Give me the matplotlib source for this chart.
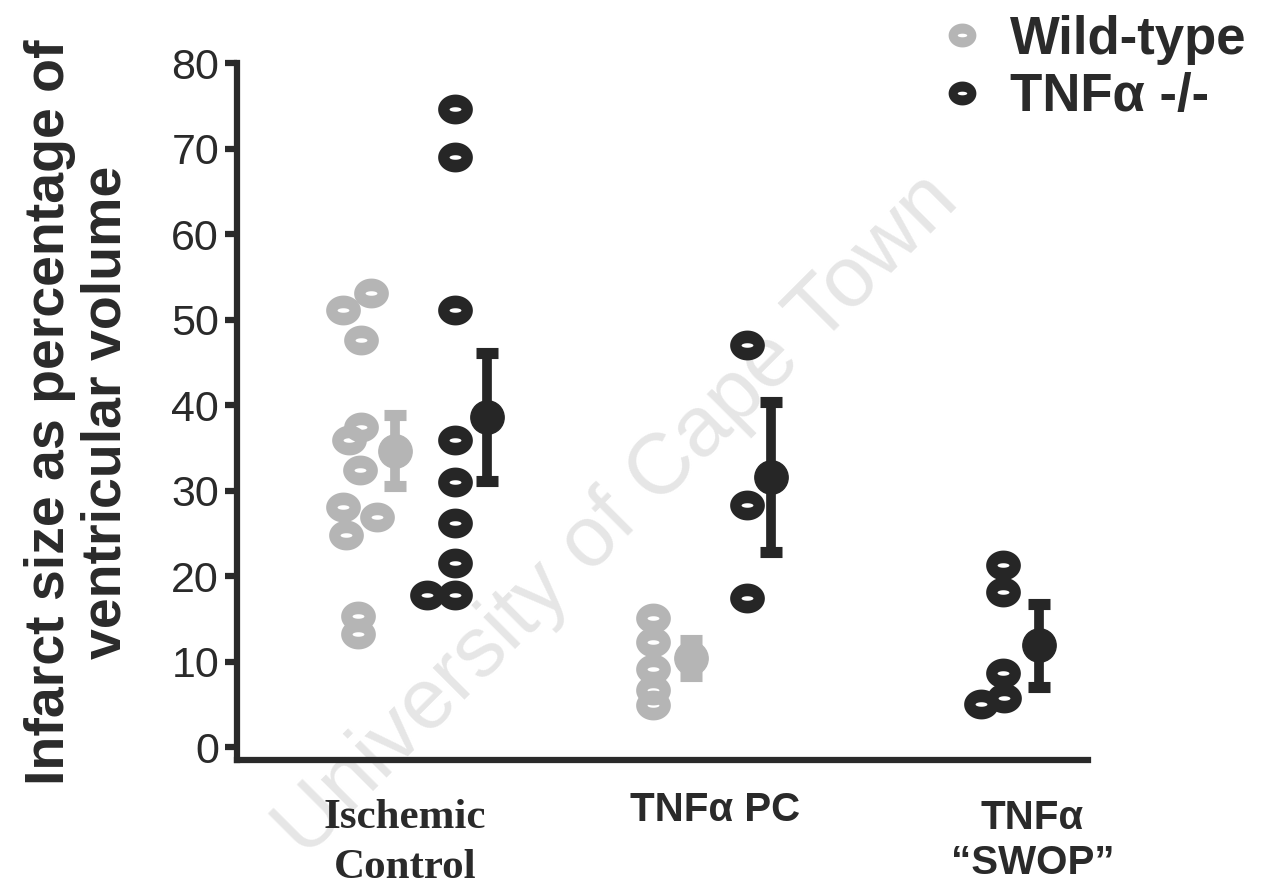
import numpy as np
import matplotlib
matplotlib.use("Agg")
import matplotlib.pyplot as plt
from matplotlib.path import Path
from matplotlib.lines import Line2D

# groups on the x axis
groups = ["Ischemic\nControl", "TNF\u03b1 PC", "TNF\u03b1\n\u201cSWOP\u201d"]

# wild-type individual values (% of ventricular volume) and their jitter
wt_group = [0, 0, 0, 0, 0, 0, 0, 0, 0, 0, 0, 1, 1, 1, 1, 1]
wt_values = [51.1, 53.1, 47.6, 37.4, 35.9, 32.4, 28.1, 26.9, 24.8, 15.4, 13.3,
             15.1, 12.3, 9.2, 6.7, 4.9]
wt_jitter = [-0.20, -0.11, -0.14, -0.14, -0.18, -0.145, -0.20, -0.09, -0.19, -0.15, -0.15,
             -0.20, -0.20, -0.20, -0.20, -0.20]

# TNFa -/- individual values
ko_group = [0, 0, 0, 0, 0, 0, 0, 0, 0, 1, 1, 1, 2, 2, 2, 2, 2]
ko_values = [74.7, 69.0, 51.1, 35.9, 31.0, 26.2, 21.6, 17.8, 17.8,
             47.0, 28.3, 17.5,
             21.3, 18.1, 8.7, 5.1, 5.8]
ko_jitter = [0.16, 0.16, 0.16, 0.16, 0.16, 0.16, 0.16, 0.16, 0.07,
             0.10, 0.10, 0.10,
             -0.075, -0.075, -0.075, -0.145, -0.07]

# group means and SEM
wt_mean_group = [0, 1]
wt_mean = [34.7, 10.4]
wt_sem = [4.2, 2.1]
wt_mean_shift = [-0.03, -0.08]

ko_mean_group = [0, 1, 2]
ko_mean = [38.6, 31.6, 11.9]
ko_sem = [7.5, 8.8, 4.9]
ko_mean_shift = [0.265, 0.18, 0.04]

wt_color = "#b5b5b5"
ko_color = "#262626"


# donut shaped marker (wide ellipse with a small slot in the middle)
def ring_marker():
    t = np.linspace(0, 2 * np.pi, 60)
    outer = np.column_stack([np.cos(t), 0.86 * np.sin(t)])
    inner = np.column_stack([0.34 * np.cos(t), 0.13 * np.sin(t)])[::-1]
    verts = np.vstack([outer, inner])
    codes = ([Path.MOVETO] + [Path.LINETO] * 58 + [Path.CLOSEPOLY]) * 2
    return Path(verts, codes)


ring = ring_marker()

plt.rcParams["font.family"] = ["Liberation Sans", "DejaVu Sans"]
fig = plt.figure(figsize=(12.61, 8.90), dpi=100)
ax = fig.add_axes([0.188, 0.146, 0.675, 0.783])
ax.patch.set_alpha(0)

# watermark
ax.text(0.49, 0.42, "University of Cape Town", fontsize=62, color="#e6e6e6",
        rotation=45, ha="center", va="center", zorder=0,
        transform=fig.transFigure, clip_on=False)

wx = np.array(wt_group) + np.array(wt_jitter)
kx = np.array(ko_group) + np.array(ko_jitter)
ax.scatter(wx, wt_values, marker=ring, s=25 ** 2, color=wt_color, linewidths=0, zorder=3)
ax.scatter(kx, ko_values, marker=ring, s=25 ** 2, color=ko_color, linewidths=0, zorder=3)

ax.errorbar(np.array(wt_mean_group) + np.array(wt_mean_shift), wt_mean, yerr=wt_sem,
            fmt="o", ms=24, color=wt_color, ecolor=wt_color, elinewidth=7,
            capsize=8, capthick=8, zorder=4)
ax.errorbar(np.array(ko_mean_group) + np.array(ko_mean_shift), ko_mean, yerr=ko_sem,
            fmt="o", ms=24, color=ko_color, ecolor=ko_color, elinewidth=7,
            capsize=8, capthick=8, zorder=4)

ax.set_xlim(-0.54, 2.2)
ax.set_ylim(-1.5, 80)
ax.set_yticks(np.arange(0, 81, 10))
ax.tick_params(axis="y", direction="out", length=9, width=4.5, labelsize=31,
               pad=4, colors="#2a2a2a")
ax.set_xticks([0, 1, 2.02])
ax.set_xticklabels(groups)
ax.tick_params(axis="x", length=0, pad=28, labelsize=29, colors="#2a2a2a")
labs = ax.get_xticklabels()
labs[0].set_fontfamily("Liberation Serif")
labs[0].set_fontsize(31)
labs[0].set_linespacing(1.4)
labs[1].set_y(0.012)
labs[2].set_linespacing(1.25)
for lab in labs:
    lab.set_va("top")
    lab.set_fontweight("bold")

for side in ["top", "right"]:
    ax.spines[side].set_visible(False)
for side in ["left", "bottom"]:
    ax.spines[side].set_linewidth(4.5)
    ax.spines[side].set_color("#2a2a2a")

fig.text(0.062, 0.537, "Infarct size as percentage of\nventricular volume",
         rotation=90, ha="center", va="center", fontsize=40, fontweight="bold",
         color="#2a2a2a", linespacing=1.12)

handles = [Line2D([], [], ls="none", marker=ring, ms=20, color=wt_color, mew=0),
           Line2D([], [], ls="none", marker=ring, ms=20, color=ko_color, mew=0)]
fig.legend(handles, ["Wild-type", "TNF\u03b1 -/-"], loc="upper right",
           bbox_to_anchor=(1.026, 1.037), frameon=False, handletextpad=0.4,
           labelspacing=0.15, handlelength=1.0,
           prop={"size": 38, "weight": "bold"}, labelcolor="#2a2a2a")

fig.savefig("out.png", dpi=100)
